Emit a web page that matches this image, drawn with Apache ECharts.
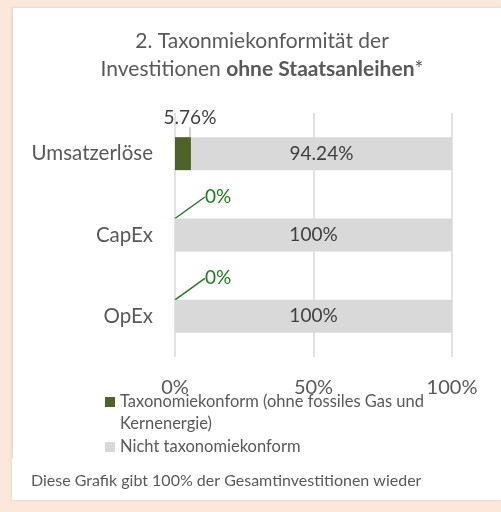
<!DOCTYPE html>
<html>
<head>
<meta charset="utf-8">
<script src="https://cdn.jsdelivr.net/npm/echarts@6/dist/echarts.min.js"></script>
<style>
  html, body { margin: 0; padding: 0; background: #fce8da; }
  #chart { width: 501px; height: 512px; }
</style>
</head>
<body>
<div id="chart"></div>
<script>
// data
const categories = ['Umsatzerlöse', 'CapEx', 'OpEx'];
const aligned = [5.76, 0, 0];
const notAligned = [94.24, 100, 100];
const seriesNames = ['Taxonomiekonform (ohne fossiles Gas und Kernenergie)', 'Nicht taxonomiekonform'];
const xTicks = [0, 50, 100];

const font = 'Lato, "Open Sans", sans-serif';
const grey = '#595959';
const dark = '#404040';
const green = '#1f7a1f';

const chart = echarts.init(document.getElementById('chart'));

// small values get the green label, the bigger one the dark one
const alignedData = aligned.map(v => ({
  value: v,
  label: { color: v > 0 ? dark : green },
  labelLine: { lineStyle: { color: v > 0 ? '#bfbfbf' : green } }
}));

chart.setOption({
  backgroundColor: 'transparent',
  textStyle: { fontFamily: font },
  graphic: [
    // white panel
    { type: 'rect', z: -10, shape: { x: 12, y: 8, width: 489, height: 492 },
      style: { fill: '#fff', shadowBlur: 3, shadowColor: 'rgba(0,0,0,0.12)' } },
    { type: 'line', z: -9, shape: { x1: 12.5, y1: 8, x2: 12.5, y2: 458 },
      style: { stroke: '#dcdcdc', lineWidth: 1 } }
  ],
  title: [
    {
      text: '2. Taxonmiekonformität der\nInvestitionen {b|ohne Staatsanleihen}*',
      left: 257, top: 22, textAlign: 'center',
      textStyle: {
        fontFamily: font, fontSize: 21, fontWeight: 'normal', color: grey, lineHeight: 28,
        rich: { b: { fontFamily: font, fontSize: 21, fontWeight: 'bold', color: grey, lineHeight: 28 } }
      }
    },
    {
      text: 'Diese Grafik gibt 100% der Gesamtinvestitionen wieder',
      left: 26, top: 468,
      textStyle: { fontFamily: font, fontSize: 16, fontWeight: 'normal', color: grey }
    }
  ],
  legend: {
    orient: 'vertical', left: 100, top: 364,
    itemWidth: 10, itemHeight: 10, itemGap: 1,
    icon: 'rect',
    data: seriesNames,
    // blank first line keeps the icon on the first text line
    formatter: name => name.indexOf('und Kernenergie') > 0
      ? '\n' + name.replace('und Kernenergie', 'und\nKernenergie') : name,
    textStyle: { fontFamily: font, fontSize: 16.5, color: grey, lineHeight: 22 }
  },
  grid: { left: 175, right: 49, top: 113, bottom: 155, containLabel: false },
  xAxis: {
    type: 'value', min: xTicks[0], max: xTicks[xTicks.length - 1], interval: 50,
    axisLine: { show: false }, axisTick: { show: false },
    splitLine: { lineStyle: { color: '#d9d9d9', width: 1.5 } },
    axisLabel: { formatter: '{value}%', fontFamily: font, fontSize: 20, color: grey, margin: 21 }
  },
  yAxis: {
    type: 'category', data: categories, inverse: true,
    axisLine: { show: false }, axisTick: { show: false },
    axisLabel: { fontFamily: font, fontSize: 20.5, color: grey, margin: 22 }
  },
  series: [
    {
      name: seriesNames[0], type: 'bar', stack: 'total', data: alignedData,
      barWidth: 33,
      itemStyle: { color: '#4f6228' },
      label: {
        show: true, position: 'inside',
        formatter: p => p.value + '%',
        fontFamily: font, fontSize: 19
      },
      labelLine: { show: true, lineStyle: { width: 1.5 } },
      labelLayout: p => p.dataIndex === 0 ? { dx: 7, dy: -36 } : { dx: 43, dy: -38 },
      emphasis: { disabled: true }
    },
    {
      name: seriesNames[1], type: 'bar', stack: 'total', data: notAligned,
      barWidth: 33,
      itemStyle: { color: '#d9d9d9' },
      label: {
        show: true, position: 'inside',
        formatter: p => p.value + '%',
        fontFamily: font, fontSize: 19, color: dark
      },
      emphasis: { disabled: true }
    }
  ]
});
</script>
</body>
</html>
